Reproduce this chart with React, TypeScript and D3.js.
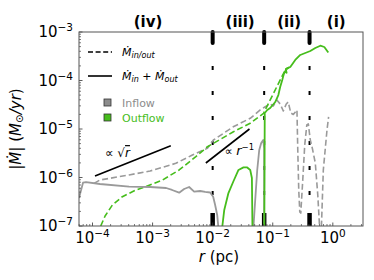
import React from "react";
import * as d3 from "d3";

const W = 374;
const H = 280;
const margin = { top: 32, right: 11, bottom: 54, left: 79 };

// radius (pc) and |Mdot| (Msun/yr)
const inSolidR1 = [5.96e-5, 6.95e-5, 7.8e-5, 1.33e-4, 4.06e-4, 9.08e-4, 1.68e-3, 2.11e-3, 2.77e-3, 3.35e-3, 4.06e-3, 4.92e-3, 6.19e-3, 7.5e-3, 9.08e-3, 1.02e-2, 1.1e-2, 1.19e-2, 1.26e-2];
const inSolidM1 = [3.78e-7, 7.8e-7, 8.07e-7, 7.35e-7, 6.46e-7, 6.37e-7, 6.08e-7, 5.53e-7, 4.86e-7, 5.8e-7, 6.37e-7, 5.1e-7, 5.27e-7, 5.03e-7, 4.91e-7, 4.02e-7, 2.71e-7, 1.69e-7, 8e-8];
const inSolidR2 = [4.73e-2, 5.11e-2, 5.52e-2, 5.96e-2, 6.43e-2, 6.95e-2, 7.2e-2, 7.22e-2];
const inSolidM2 = [8e-8, 3.43e-7, 1.43e-6, 3.69e-6, 5.14e-6, 5.93e-6, 4e-6, 8e-8];

const outSolidR1 = [1.42e-2, 1.56e-2, 1.83e-2, 2.2e-2, 2.69e-2, 3.26e-2, 3.76e-2, 4.22e-2, 4.5e-2, 4.6e-2];
const outSolidM1 = [8e-8, 2.14e-7, 4.78e-7, 8.18e-7, 1.43e-6, 1.62e-6, 1.61e-6, 1.43e-6, 9.77e-7, 8e-8];
const outSolidR2 = [7.22e-2, 7.29e-2, 7.36e-2, 8.1e-2, 9.08e-2, 0.11, 0.124, 0.133, 0.144, 0.153, 0.162, 0.17, 0.165, 0.175, 0.196, 0.237, 0.287, 0.348, 0.422, 0.511, 0.619, 0.722, 0.841];
const outSolidM2 = [8e-8, 8.87e-7, 2.14e-5, 2.47e-5, 2.71e-5, 3.6e-5, 5.02e-5, 7.34e-5, 1.02e-4, 1.36e-4, 1.57e-4, 1.45e-4, 1.72e-4, 1.8e-4, 1.9e-4, 2.65e-4, 3.36e-4, 3.69e-4, 4.06e-4, 4.68e-4, 5.22e-4, 4.91e-4, 3.78e-4];

const outDashR = [1.37e-4, 1.62e-4, 2.14e-4, 3.14e-4, 5.25e-4, 7.71e-4, 1.46e-3, 2.77e-3, 5.25e-3, 8.19e-3, 1.03e-2, 2.22e-2, 4.22e-2, 7.03e-2, 0.103, 0.142, 0.162, 0.19];
const outDashM = [1e-7, 1.61e-7, 2.71e-7, 4.02e-7, 5.52e-7, 6.46e-7, 8.87e-7, 1.43e-6, 2.69e-6, 4.32e-6, 5.07e-6, 8.79e-6, 1.31e-5, 2.11e-5, 5.45e-5, 1.2e-4, 1.64e-4, 1.88e-4];

const inDashR = [1.06e-4, 1.33e-4, 4.06e-4, 9.08e-4, 2.44e-3, 4.6e-3, 8.19e-3, 1.03e-2, 2.2e-2, 4.22e-2, 6.19e-2, 7.5e-2, 9.08e-2, 0.102, 0.117, 0.133, 0.15, 0.168, 0.181, 0.2, 0.22, 0.253, 0.261, 0.271, 0.282, 0.293, 0.316, 0.341, 0.369, 0.391, 0.422, 0.455, 0.511, 0.562, 0.607, 0.643, 0.695, 0.8, 0.851];
const inDashM = [7.58e-7, 8.87e-7, 1.13e-6, 1.36e-6, 1.96e-6, 2.91e-6, 4e-6, 5.93e-6, 1.11e-5, 1.66e-5, 2.47e-5, 2.88e-5, 3.28e-5, 2.98e-5, 3.96e-5, 3.28e-5, 2.35e-5, 3.28e-5, 3.6e-5, 2.14e-5, 1.99e-5, 2.47e-5, 3.69e-6, 5.52e-7, 1.95e-7, 1.85e-7, 8.87e-7, 4.68e-6, 1.21e-5, 1.27e-5, 5.93e-6, 4.06e-6, 1.99e-6, 4.35e-7, 8e-8, 8e-8, 1.43e-6, 9.55e-6, 1.77e-5];

// region boundaries (pc) and labels
const boundaries = [0.01, 0.072, 0.41];
const regionLabels = ["(iv)", "(iii)", "(ii)", "(i)"];
const regionLabelR = [8.4e-4, 2.87e-2, 0.188, 1.14];

// scaling guides
const sqrtGuideR = [1.1e-4, 2.01e-3];
const sqrtGuideM = [1.07e-6, 4.53e-6];
const invGuideR = [7.7e-3, 4.1e-2];
const invGuideM = [1.99e-6, 1.0e-5];

const xTicks = [1e-4, 1e-3, 1e-2, 1e-1, 1];
const xTickExp = ["\u22124", "\u22123", "\u22122", "\u22121", "0"];
const yTicks = [1e-3, 1e-4, 1e-5, 1e-6, 1e-7];
const yTickExp = ["\u22123", "\u22124", "\u22125", "\u22126", "\u22127"];

const GRAY = "#9a9a9a";
const GREEN = "#46bd1c";
const FONT = "DejaVu Sans";

function minorTicks(lo: number, hi: number) {
  const out: number[] = [];
  for (let e = Math.floor(Math.log10(lo)); e <= Math.ceil(Math.log10(hi)); e++) {
    for (let k = 2; k <= 9; k++) {
      const v = k * Math.pow(10, e);
      if (v > lo && v < hi) out.push(v);
    }
  }
  return out;
}

export default function App() {
  const iw = W - margin.left - margin.right;
  const ih = H - margin.top - margin.bottom;
  const x = d3.scaleLog().domain([5.96e-5, 3.18]).range([0, iw]);
  const y = d3.scaleLog().domain([1e-7, 1e-3]).range([ih, 0]);

  const line = d3
    .line<[number, number]>()
    .x((d) => x(d[0]))
    .y((d) => y(d[1]));
  const path = (rs: number[], ms: number[]) =>
    line(rs.map((r, i) => [r, ms[i]] as [number, number])) || "";

  const xMinor = minorTicks(5.96e-5, 3.18);
  const yMinor = minorTicks(1e-7, 1e-3);

  return (
    <div style={{ position: "absolute", left: 0, top: 0 }}>
      <svg width={W} height={H} style={{ fontFamily: FONT, display: "block" }}>
        <rect width={W} height={H} fill="white" />
        <defs>
          <clipPath id="plot">
            <rect x={0} y={0} width={iw} height={ih} />
          </clipPath>
        </defs>
        <g transform={`translate(${margin.left},${margin.top})`}>
          {/* region boundaries */}
          {boundaries.map((b, i) => (
            <g key={"b" + i}>
              <line x1={x(b)} x2={x(b)} y1={14} y2={ih - 16} stroke="black" strokeWidth={2} strokeDasharray="4,21" strokeDashoffset={-20} />
              <line x1={x(b)} x2={x(b)} y1={0} y2={11} stroke="black" strokeWidth={4} strokeLinecap="round" />
              <line x1={x(b)} x2={x(b)} y1={ih - 13} y2={ih} stroke="black" strokeWidth={4.5} />
            </g>
          ))}

          <g clipPath="url(#plot)" fill="none" strokeLinejoin="round">
            <path d={path(inDashR, inDashM)} stroke={GRAY} strokeWidth={1.6} strokeDasharray="6,3" />
            <path d={path(outDashR, outDashM)} stroke={GREEN} strokeWidth={1.6} strokeDasharray="6,3" />
            <path d={path(inSolidR1, inSolidM1)} stroke={GRAY} strokeWidth={1.8} />
            <path d={path(inSolidR2, inSolidM2)} stroke={GRAY} strokeWidth={1.8} />
            <path d={path(outSolidR1, outSolidM1)} stroke={GREEN} strokeWidth={1.8} />
            <path d={path(outSolidR2, outSolidM2)} stroke={GREEN} strokeWidth={1.8} />
          </g>

          {/* scaling guides */}
          <line x1={x(sqrtGuideR[0])} y1={y(sqrtGuideM[0])} x2={x(sqrtGuideR[1])} y2={y(sqrtGuideM[1])} stroke="black" strokeWidth={1.6} />
          <text x={x(sqrtGuideR[0]) + 10} y={y(sqrtGuideM[0]) - 19} fontSize={12}>
            {"\u221d \u221a"}
            <tspan fontStyle="italic" textDecoration="overline">r</tspan>
          </text>
          <line x1={x(invGuideR[0])} y1={y(invGuideM[0])} x2={x(invGuideR[1])} y2={y(invGuideM[1])} stroke="black" strokeWidth={1.6} />
          <text x={x(invGuideR[0]) + 19} y={y(invGuideM[0]) - 8} fontSize={11}>
            {"\u221d "}
            <tspan fontStyle="italic" fontSize={13}>r</tspan>
            <tspan dy={-5} fontSize={8.5}>{"\u22121"}</tspan>
          </text>

          {/* minor ticks */}
          {xMinor.map((v, i) => (
            <line key={"xm" + i} x1={x(v)} x2={x(v)} y1={ih} y2={ih - 2} stroke="#444" strokeWidth={0.7} />
          ))}
          {yMinor.map((v, i) => (
            <line key={"ym" + i} x1={0} x2={2} y1={y(v)} y2={y(v)} stroke="#444" strokeWidth={0.7} />
          ))}
          {xTicks.map((v, i) => (
            <g key={"xt" + i}>
              <line x1={x(v)} x2={x(v)} y1={ih} y2={ih - 3.5} stroke="#333" strokeWidth={0.8} />
              <text x={x(v)} y={ih + 17} textAnchor="middle" fontSize={15}>
                10<tspan dy={-6} fontSize={10.5}>{xTickExp[i]}</tspan>
              </text>
            </g>
          ))}
          {yTicks.map((v, i) => (
            <g key={"yt" + i}>
              <line x1={0} x2={3.5} y1={y(v)} y2={y(v)} stroke="#333" strokeWidth={0.8} />
              <text x={-6} y={y(v) + 5} textAnchor="end" fontSize={15}>
                10<tspan dy={-6} fontSize={10.5}>{yTickExp[i]}</tspan>
              </text>
            </g>
          ))}

          <rect x={0} y={0} width={iw} height={ih} fill="none" stroke="#555" strokeWidth={1} />

          {/* region labels */}
          {regionLabels.map((t, i) => (
            <text key={"rl" + i} x={x(regionLabelR[i])} y={-5} textAnchor="middle" fontSize={15} fontWeight="bold">
              {t}
            </text>
          ))}

          {/* legend */}
          <g transform="translate(9,20)">
            <line x1={0} x2={24} y1={0} y2={0} stroke="black" strokeWidth={1.6} strokeDasharray="5,2.6" />
            <text x={34} y={4} fontSize={11} fontStyle="italic">
              {"\u1e40"}
              <tspan fontSize={8} dy={2}>in/out</tspan>
            </text>
            <line x1={0} x2={24} y1={24} y2={24} stroke="black" strokeWidth={1.6} />
            <text x={34} y={28} fontSize={11} fontStyle="italic">
              {"\u1e40"}
              <tspan fontSize={8} dy={2}>in</tspan>
              <tspan dy={-2} fontStyle="normal">{" + "}</tspan>
              {"\u1e40"}
              <tspan fontSize={8} dy={2}>out</tspan>
            </text>
            <rect x={16} y={47} width={7} height={7} fill="#8c8c8c" stroke="#333" strokeWidth={0.8} />
            <text x={34} y={55} fontSize={11} fill="#8c8c8c">Inflow</text>
            <rect x={16} y={62} width={7} height={7} fill={GREEN} stroke="#333" strokeWidth={0.8} />
            <text x={34} y={70} fontSize={11} fill={GREEN}>Outflow</text>
          </g>

          {/* axis labels */}
          <text transform={`translate(-58,${ih / 2}) rotate(-90)`} textAnchor="middle" fontSize={15}>
            |<tspan fontStyle="italic">{"\u1e40"}</tspan>|{"  ("}
            <tspan fontStyle="italic">{"M"}</tspan>
            <tspan fontSize={10.5} dy={2}>{"\u2299"}</tspan>
            <tspan dy={-2} fontStyle="italic">/yr</tspan>)
          </text>
          <text x={iw / 2 - 2} y={ih + 36} textAnchor="middle" fontSize={15}>
            <tspan fontStyle="italic">r</tspan> (pc)
          </text>
        </g>
      </svg>
    </div>
  );
}
